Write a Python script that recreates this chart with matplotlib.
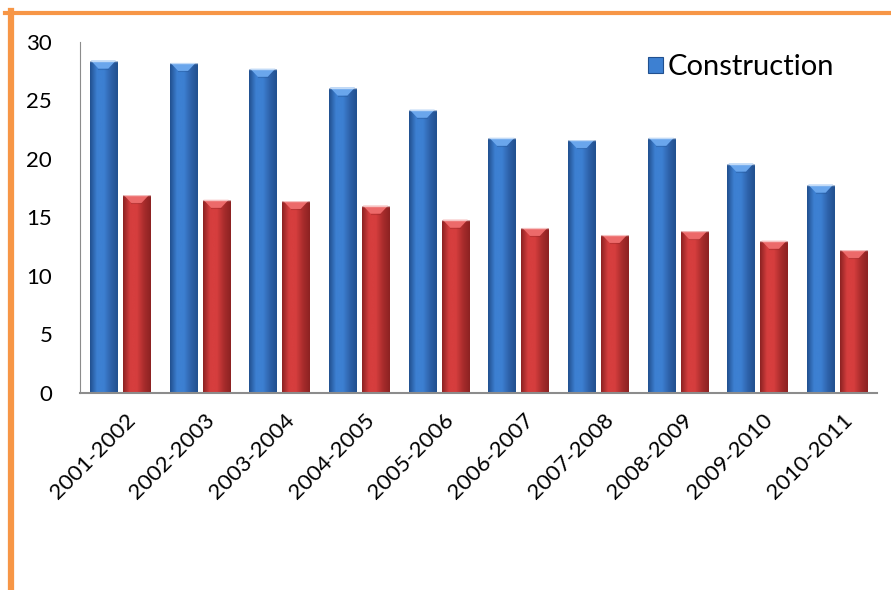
import numpy as np
import matplotlib
matplotlib.use("Agg")
import matplotlib.pyplot as plt
import matplotlib.transforms as mtransforms
from matplotlib.patches import Polygon, Patch
from matplotlib.lines import Line2D
from matplotlib.colors import LinearSegmentedColormap

plt.rcParams['font.family'] = ['Lato', 'DejaVu Sans']

periodes = ["2001-2002", "2002-2003", "2003-2004", "2004-2005", "2005-2006",
            "2006-2007", "2007-2008", "2008-2009", "2009-2010", "2010-2011"]
construction = [28.4, 28.2, 27.7, 26.1, 24.2, 21.8, 21.6, 21.8, 19.6, 17.8]
autre = [16.9, 16.5, 16.4, 16.0, 14.8, 14.1, 13.5, 13.8, 13.0, 12.2]

# sombre, clair, moyen, biseau
bleu = ["#21508f", "#3d80d2", "#2e62aa", "#6aa6ec"]
rouge = ["#8c2222", "#d63e3e", "#a92c2c", "#ec6a6a"]

fig = plt.figure(figsize=(8.91, 5.90), dpi=100)
ax = fig.add_axes([0.0898, 0.334, 0.8946, 0.595])

x = np.arange(len(periodes))
w = 0.34
b1 = ax.bar(x - 0.207, construction, w, color=bleu[1], zorder=2)
b2 = ax.bar(x + 0.207, autre, w, color=rouge[1], zorder=2)

ax.set_xlim(-0.5, len(periodes) - 0.5)
ax.set_ylim(0, 30)

# effet biseauté : dégradé horizontal + triangle clair en haut
px_par_unite = 0.595 * 590 / 30
prof = 8 / px_par_unite
grad = np.linspace(0, 1, 64).reshape(1, -1)
for barres, cols in ((b1, bleu), (b2, rouge)):
    cmap = LinearSegmentedColormap.from_list("g", [cols[0], cols[1], cols[1], cols[2], cols[0]])
    for r in barres:
        x0, h, bw = r.get_x(), r.get_height(), r.get_width()
        r.set_facecolor("none")
        im = ax.imshow(grad, cmap=cmap, aspect="auto", extent=(x0, x0 + bw, 0, h),
                       zorder=2, interpolation="bicubic")
        im.set_clip_path(r)
        ax.add_patch(Polygon([(x0 + bw * 0.04, h), (x0 + bw * 0.96, h), (x0 + bw * 0.68, h - prof),
                              (x0 + bw * 0.32, h - prof)], closed=True,
                             facecolor=cols[3], edgecolor="none", zorder=3))
        ax.plot([x0 + bw * 0.32, x0 + bw * 0.68], [h - prof, h - prof],
                color=cols[0], alpha=0.35, lw=0.8, zorder=4)
        ax.plot([x0, x0 + bw], [h, h], color="white", alpha=0.6, lw=1, zorder=4)

for s in ["top", "right"]:
    ax.spines[s].set_visible(False)
ax.spines["left"].set_color("#8c8c8c")
ax.spines["bottom"].set_color("#8c8c8c")
ax.spines["bottom"].set_linewidth(1.5)

ax.set_yticks(range(0, 31, 5))
ax.set_xticks(x)
ax.set_xticklabels(periodes, rotation=45, ha="right", rotation_mode="anchor")
ax.tick_params(axis="both", length=0, labelsize=16)
ax.tick_params(axis="y", pad=20)
ax.tick_params(axis="x", pad=12)
decal = mtransforms.ScaledTranslation(5 / 100, 0, fig.dpi_scale_trans)
for lab in ax.get_xticklabels():
    lab.set_transform(lab.get_transform() + decal)

poignee = Patch(facecolor=bleu[1], edgecolor=bleu[0], linewidth=0.8)
ax.legend([poignee], ["Construction"], loc="upper left", bbox_to_anchor=(0.713, 0.965),
          frameon=False, fontsize=21, handlelength=0.5, handleheight=0.5,
          handletextpad=0.15, borderpad=0, borderaxespad=0)

# cadre orange
fig.add_artist(Line2D([5 / 891, 1], [1 - 12.5 / 590, 1 - 12.5 / 590],
                      color="#f79646", lw=3, transform=fig.transFigure))
fig.add_artist(Line2D([11 / 891, 11 / 891], [0, 1 - 11 / 590],
                      color="#f79646", lw=4.5, transform=fig.transFigure))

fig.savefig("out.png", dpi=100)
